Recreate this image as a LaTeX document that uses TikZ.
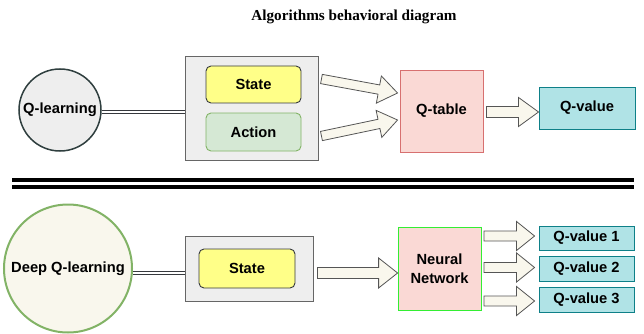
\documentclass[tikz,border=0pt]{standalone}
\usepackage{fontspec}
\setmainfont{Liberation Sans}
\newfontfamily\titlefont{Liberation Serif}
\usetikzlibrary{calc}

\definecolor{panelfill}{HTML}{EEEEEE}
\definecolor{paneldraw}{HTML}{666666}
\definecolor{circdraw}{HTML}{2F3F3F}
\definecolor{creamfill}{HTML}{F9F7ED}
\definecolor{greendraw}{HTML}{82B366}
\definecolor{greenfill}{HTML}{D5E8D4}
\definecolor{yellowfill}{HTML}{FFFF88}
\definecolor{yellowdraw}{HTML}{36393D}
\definecolor{redfill}{HTML}{FAD9D5}
\definecolor{reddraw}{HTML}{D77070}
\definecolor{tealfill}{HTML}{B0E3E6}
\definecolor{tealdraw}{HTML}{0E8088}
\definecolor{limedraw}{HTML}{33EE33}
\definecolor{arrowdraw}{HTML}{555555}

\tikzset{
  lbl/.style={font=\fontsize{14.7}{19}\selectfont\bfseries, align=center, text=black},
  panel/.style={draw=paneldraw, fill=panelfill, line width=0.9pt, minimum width=#1},
  tag/.style={lbl, rounded corners=5pt, line width=0.9pt, inner sep=0pt},
  boxed/.style={lbl, line width=0.9pt, inner sep=0pt},
  algo/.style={lbl, circle, inner sep=0pt},
  link/.style={draw=yellowdraw, line width=0.9pt, double=white, double distance=1.6pt},
  barrow/.style={draw=arrowdraw, fill=creamfill, line width=0.8pt, line join=miter},
  sep/.style={line width=3.5pt, black},
}

% block arrow: tail, tip, shaft half-width, head half-width, head length
\newcommand\blockarrow[5]{%
  \path ($(#2)!#5!(#1)$) coordinate (ba-h);
  \draw[barrow] ($(#1)!#3!90:(#2)$) -- ($(ba-h)!#3!90:(#2)$)
    -- ($(ba-h)!#4!90:(#2)$) -- (#2) -- ($(ba-h)!#4!-90:(#2)$)
    -- ($(ba-h)!#3!-90:(#2)$) -- ($(#1)!#3!-90:(#2)$) -- cycle;
}

\begin{document}
\begin{tikzpicture}[x=1pt,y=-1pt]
\useasboundingbox (0,0) rectangle (644,334);

\node[font=\titlefont\fontsize{15.2}{18}\selectfont\bfseries] (title) at (354,17) {Algorithms behavioral diagram};

% ---- Q-learning ----
\node[algo, draw=circdraw, fill=panelfill, line width=1.5pt, minimum size=82pt] (ql) at (60,110) {Q-learning};
\node[panel, minimum width=133pt, minimum height=104pt] (gb1) at (251.5,108) {};
\node[tag, draw=yellowdraw, fill=yellowfill, minimum width=95pt, minimum height=37pt] (st1) at (253.5,84.5) {State};
\node[tag, draw=greendraw, fill=greenfill, minimum width=95pt, minimum height=38pt] (act) at (253.5,132) {Action};
\node[boxed, draw=reddraw, fill=redfill, minimum width=83pt, minimum height=82pt] (qt) at (441.5,111) {Q-table};
\node[boxed, draw=tealdraw, fill=tealfill, minimum width=96pt, minimum height=42pt] (qv) at (587,108) {Q-value};

\draw[link] (ql.-3) -- (ql.-3 -| gb1.west);

\coordinate (t1) at ($(gb1.east)+(3,-29)$);
\coordinate (h1) at ($(qt.west)+(-2,-18)$);
\coordinate (t2) at ($(gb1.east)+(3,28)$);
\coordinate (h2) at ($(qt.west)+(-2,9)$);
\blockarrow{t1}{h1}{4.7pt}{13.8pt}{19pt}
\blockarrow{t2}{h2}{4.7pt}{13.8pt}{19pt}

\coordinate (t3) at ($(qt.east)+(3,1)$);
\coordinate (h3) at (qv.west |- t3);
\blockarrow{t3}{h3}{5.5pt}{14.5pt}{20pt}

% ---- separator ----
\draw[sep] (12,180) -- (634,180);
\draw[sep] (12,187) -- (634,187);

% ---- Deep Q-learning ----
\node[algo, draw=greendraw, fill=creamfill, line width=2pt, minimum size=128pt] (dql) at (68,268.5) {Deep Q-learning};
\node[panel, minimum width=128pt, minimum height=65pt] (gb2) at (249,268.5) {};
\node[tag, draw=yellowdraw, fill=yellowfill, minimum width=96pt, minimum height=39pt] (st2) at (247,268.5) {State};
\node[boxed, draw=limedraw, fill=redfill, line width=0.8pt, minimum width=83pt, minimum height=83pt] (nn) at (439.5,268.5) {Neural\\Network};
\node[boxed, draw=tealdraw, fill=tealfill, minimum width=95pt, minimum height=24pt] (qv1) at (586.5,238) {Q-value 1};
\node[boxed, draw=tealdraw, fill=tealfill, minimum width=95pt, minimum height=25pt] (qv2) at (586.5,268.5) {Q-value 2};
\node[boxed, draw=tealdraw, fill=tealfill, minimum width=95pt, minimum height=25pt] (qv3) at (586.5,299.5) {Q-value 3};

\draw[link] (dql.-4.5) -- (dql.-4.5 -| gb2.west);

\coordinate (t4) at ($(gb2.east)+(4,4.5)$);
\coordinate (h4) at (nn.west |- t4);
\blockarrow{t4}{h4}{5.5pt}{15pt}{19pt}

\coordinate (t5) at ($(nn.east |- qv1.west)+(2.5,-2)$);
\coordinate (h5) at ($(qv1.west)+(-4,-2)$);
\blockarrow{t5}{h5}{5pt}{14.5pt}{18pt}
\coordinate (t6) at ($(nn.east |- qv2.west)+(2.5,-1)$);
\coordinate (h6) at ($(qv2.west)+(-4,-1)$);
\blockarrow{t6}{h6}{5pt}{14.5pt}{18pt}
\coordinate (t7) at ($(nn.east |- qv3.west)+(2.5,1.5)$);
\coordinate (h7) at ($(qv3.west)+(-4,1.5)$);
\blockarrow{t7}{h7}{5pt}{14.5pt}{18pt}
\end{tikzpicture}
\end{document}
